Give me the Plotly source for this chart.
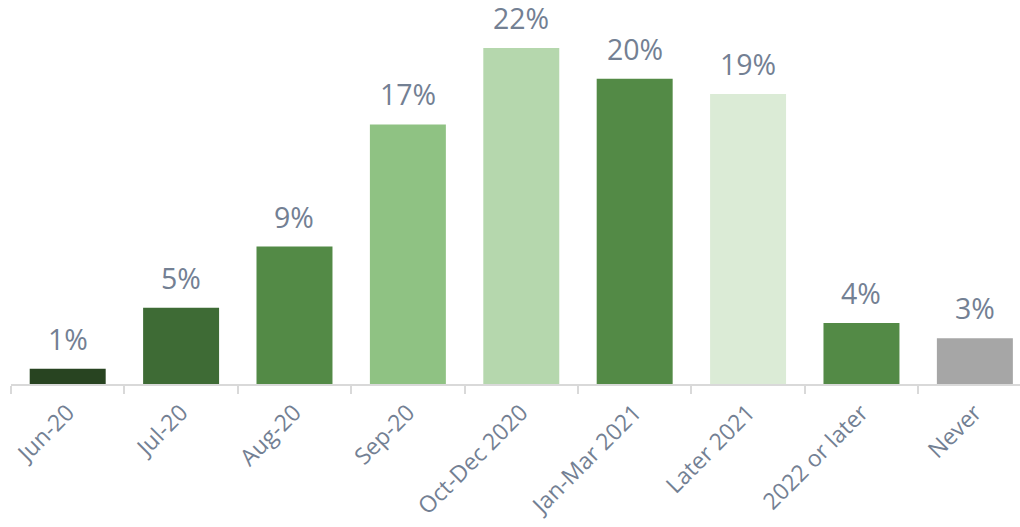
import plotly.graph_objects as go

# Share of responses by expected period
categories = ["Jun-20", "Jul-20", "Aug-20", "Sep-20", "Oct-Dec 2020",
              "Jan-Mar 2021", "Later 2021", "2022 or later", "Never"]
values = [1, 5, 9, 17, 22, 20, 19, 4, 3]
bar_colors = ["#284421", "#3e6b35", "#538a46", "#8fc283", "#b5d7ad",
              "#538a46", "#dbebd6", "#538a46", "#a6a6a6"]

label_color = "#738093"
font_family = "Open Sans, Lato, DejaVu Sans, sans-serif"

fig = go.Figure(
    go.Bar(
        x=categories,
        y=values,
        marker=dict(color=bar_colors, line=dict(width=0)),
        width=0.67,
        hoverinfo="skip",
    )
)

# Percentage labels above each bar
for cat, val in zip(categories, values):
    fig.add_annotation(
        x=cat, y=val, text=f"{val}%",
        xref="x", yref="y",
        yanchor="bottom", showarrow=False,
        yshift=9,
        font=dict(family=font_family, size=28.5, color=label_color),
    )

fig.update_layout(
    width=1020, height=527,
    margin=dict(l=11, r=0, t=0, b=143),
    paper_bgcolor="white", plot_bgcolor="white",
    showlegend=False,
    bargap=0.33,
)

fig.update_xaxes(
    type="category",
    range=[-0.5, 8.398],
    showline=True, linecolor="#d9d9d9", linewidth=2,
    ticks="outside", tickson="boundaries", ticklen=8,
    tickcolor="#d9d9d9", tickwidth=2,
    tickangle=-45,
    ticklabelstandoff=4,
    tickfont=dict(family=font_family, size=23, color=label_color),
    showgrid=False, zeroline=False,
)
fig.update_yaxes(
    range=[0, 25.15],
    visible=False, showgrid=False, zeroline=False,
)

fig.write_html("out.html")
